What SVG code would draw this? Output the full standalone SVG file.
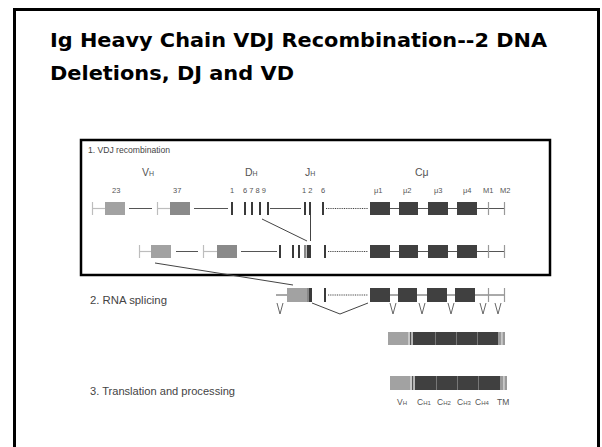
<svg xmlns="http://www.w3.org/2000/svg" width="602" height="447" viewBox="0 0 602 447">
<style>
.title{font-family:"DejaVu Sans","Liberation Sans",sans-serif;font-weight:bold;font-size:19px;fill:#000}
.lab{font-family:"Liberation Sans",Arial,sans-serif;fill:#444}
.step{font-size:10px}
.gene{font-size:10.5px;fill:#555}
.sub{font-size:7px}
.num{font-size:7.5px;fill:#555}
.plab{font-size:8.5px;fill:#555}
.psub{font-size:6px}
.lt{fill:#a2a2a2}
.md{fill:#8a8a8a}
.dk{fill:#404040}
.bar{fill:#3a3a3a}
.tick{stroke:#bdbdbd;stroke-width:1.2;fill:none}
.ln{stroke:#555;stroke-width:1;fill:none}
.dot{stroke:#444;stroke-width:1.2;stroke-dasharray:1 0.8;fill:none}
.con{stroke:#444;stroke-width:1;fill:none}
.v{stroke:#666;stroke-width:1;fill:none}
</style>
<rect width="602" height="447" fill="#fff"/>
<g id="frame"><rect x="14.5" y="9.5" width="584" height="450" fill="none" stroke="#000" stroke-width="3"/></g>
<g id="title">
<text class="title" x="50" y="47" textLength="497" lengthAdjust="spacingAndGlyphs">Ig Heavy Chain VDJ Recombination--2 DNA</text>
<text class="title" x="50" y="80" textLength="244" lengthAdjust="spacingAndGlyphs">Deletions, DJ and VD</text>
</g>
<g id="panel-1">
<rect x="81" y="140" width="469" height="135" fill="none" stroke="#000" stroke-width="2.5"/>
<text class="lab" x="88" y="153" style="font-size:9px" textLength="82" lengthAdjust="spacingAndGlyphs">1. VDJ recombination</text>
</g>
<g id="segment-labels" class="lab">
<text class="gene" x="142" y="176">V<tspan class="sub">H</tspan></text>
<text class="gene" x="245" y="176">D<tspan class="sub">H</tspan></text>
<text class="gene" x="305" y="176">J<tspan class="sub">H</tspan></text>
<text class="gene" x="415" y="176">Cμ</text>
<text class="num" x="112" y="193">23</text>
<text class="num" x="173" y="193">37</text>
<text class="num" x="230" y="193">1</text>
<text class="num" x="243" y="193">6 7 8 9</text>
<text class="num" x="302" y="193">1 2</text>
<text class="num" x="321" y="193">6</text>
<text class="num" x="374" y="193">μ1</text>
<text class="num" x="403" y="193">μ2</text>
<text class="num" x="434" y="193">μ3</text>
<text class="num" x="463" y="193">μ4</text>
<text class="num" x="483" y="193">M1</text>
<text class="num" x="500" y="193">M2</text>
</g>
<g id="row1-germline">
<line class="tick" x1="92.5" y1="202" x2="92.5" y2="215"/><line class="tick" x1="92" y1="208.5" x2="105" y2="208.5"/>
<rect class="lt" x="105" y="202" width="20" height="13"/>
<line class="ln" x1="129" y1="208.5" x2="152" y2="208.5"/>
<line class="tick" x1="157.5" y1="202" x2="157.5" y2="215"/><line class="tick" x1="157" y1="208.5" x2="170" y2="208.5"/>
<rect class="md" x="170" y="202" width="20" height="13"/>
<line class="ln" x1="194" y1="208.5" x2="228" y2="208.5"/>
<rect class="bar" x="231" y="202" width="2" height="13"/>
<rect class="bar" x="244" y="202" width="2" height="13"/>
<rect class="bar" x="251" y="202" width="2" height="13"/>
<rect class="bar" x="259" y="202" width="2" height="13"/>
<rect class="bar" x="267" y="202" width="2" height="13"/>
<line class="ln" x1="270" y1="208.5" x2="301" y2="208.5"/>
<rect class="bar" x="304" y="202" width="2" height="13"/>
<rect class="bar" x="309" y="202" width="2" height="13"/>
<rect class="bar" x="322" y="202" width="2" height="13"/>
<line class="dot" x1="326" y1="208.5" x2="368" y2="208.5"/>
<rect class="dk" x="370" y="202" width="20" height="13"/>
<line class="ln" x1="390" y1="208.5" x2="399" y2="208.5"/>
<rect class="dk" x="399" y="202" width="19" height="13"/>
<line class="ln" x1="418" y1="208.5" x2="428" y2="208.5"/>
<rect class="dk" x="428" y="202" width="20" height="13"/>
<line class="ln" x1="448" y1="208.5" x2="457" y2="208.5"/>
<rect class="dk" x="457" y="202" width="20" height="13"/>
<line class="ln" x1="477" y1="208.5" x2="505" y2="208.5"/>
<line class="tick" x1="488.5" y1="202" x2="488.5" y2="215" style="stroke:#999"/>
<line class="tick" x1="504.5" y1="202" x2="504.5" y2="215" style="stroke:#999"/>
</g>
<g id="row2-dj-joined">
<line class="tick" x1="139.5" y1="245" x2="139.5" y2="258"/><line class="tick" x1="139" y1="251.5" x2="151" y2="251.5"/>
<rect class="lt" x="151" y="245" width="20" height="13"/>
<line class="ln" x1="176" y1="251.5" x2="198" y2="251.5"/>
<line class="tick" x1="203.5" y1="245" x2="203.5" y2="258"/><line class="tick" x1="203" y1="251.5" x2="217" y2="251.5"/>
<rect class="md" x="217" y="245" width="20" height="13"/>
<line class="ln" x1="241" y1="251.5" x2="277" y2="251.5"/>
<rect class="bar" x="279" y="245" width="2" height="13"/>
<rect class="bar" x="292" y="245" width="2" height="13"/>
<rect class="bar" x="298" y="245" width="2" height="13"/>
<rect fill="#888" x="304" y="245" width="2.5" height="13"/>
<rect class="bar" x="307" y="245" width="4" height="13"/>
<rect class="bar" x="324" y="245" width="2" height="13"/>
<line class="dot" x1="328" y1="251.5" x2="368" y2="251.5"/>
<rect class="dk" x="370" y="245" width="20" height="13"/>
<line class="ln" x1="390" y1="251.5" x2="399" y2="251.5"/>
<rect class="dk" x="399" y="245" width="19" height="13"/>
<line class="ln" x1="418" y1="251.5" x2="428" y2="251.5"/>
<rect class="dk" x="428" y="245" width="20" height="13"/>
<line class="ln" x1="448" y1="251.5" x2="457" y2="251.5"/>
<rect class="dk" x="457" y="245" width="20" height="13"/>
<line class="ln" x1="477" y1="251.5" x2="505" y2="251.5"/>
<line class="tick" x1="488.5" y1="245" x2="488.5" y2="258" style="stroke:#999"/>
<line class="tick" x1="504.5" y1="245" x2="504.5" y2="258" style="stroke:#999"/>
</g>
<g id="step-2">
<text class="lab step" x="90" y="304" textLength="77" lengthAdjust="spacingAndGlyphs">2. RNA splicing</text>
</g>
<g id="row3-vdj-joined">
<line class="ln" x1="276" y1="295" x2="287" y2="295"/>
<rect class="lt" x="287" y="288" width="20" height="14"/>
<rect fill="#888" x="307" y="288" width="2" height="14"/>
<rect class="bar" x="309" y="288" width="3" height="14"/>
<rect class="bar" x="324" y="288" width="2" height="14"/>
<line class="dot" x1="328" y1="295" x2="368" y2="295"/>
<rect class="dk" x="370" y="288" width="20" height="14"/>
<line class="ln" x1="390" y1="295" x2="398" y2="295"/>
<rect class="dk" x="398" y="288" width="19" height="14"/>
<line class="ln" x1="417" y1="295" x2="427" y2="295"/>
<rect class="dk" x="427" y="288" width="20" height="14"/>
<line class="ln" x1="447" y1="295" x2="455" y2="295"/>
<rect class="dk" x="455" y="288" width="20" height="14"/>
<line class="ln" x1="475" y1="295" x2="505" y2="295"/>
<line class="tick" x1="488.5" y1="288" x2="488.5" y2="302" style="stroke:#999"/>
<line class="tick" x1="504.5" y1="288" x2="504.5" y2="302" style="stroke:#999"/>
</g>
<g id="mrna">
<rect class="lt" x="388" y="332" width="20" height="13"/>
<rect fill="#c8c8c8" x="408" y="332" width="2" height="13"/>
<rect fill="#555" x="410" y="332" width="1.5" height="13"/>
<rect fill="#bbb" x="411.5" y="332" width="1.5" height="13"/>
<rect class="dk" x="413" y="332" width="85" height="13"/>
<line x1="435.5" y1="332" x2="435.5" y2="345" stroke="#777" stroke-width="1"/>
<line x1="456.5" y1="332" x2="456.5" y2="345" stroke="#777" stroke-width="1"/>
<line x1="477.5" y1="332" x2="477.5" y2="345" stroke="#777" stroke-width="1"/>
<rect fill="#9a9a9a" x="498" y="332" width="3" height="13"/>
<rect fill="#c8c8c8" x="501" y="332" width="1.5" height="13"/>
<rect fill="#999" x="502.5" y="332" width="2.5" height="13"/>
</g>
<g id="step-3">
<text class="lab step" x="90" y="395" textLength="145" lengthAdjust="spacingAndGlyphs">3. Translation and processing</text>
</g>
<g id="protein">
<rect class="lt" x="390" y="376" width="20" height="14"/>
<rect fill="#c8c8c8" x="410" y="376" width="2" height="14"/>
<rect fill="#555" x="412" y="376" width="1.5" height="14"/>
<rect fill="#bbb" x="413.5" y="376" width="1.5" height="14"/>
<rect class="dk" x="415" y="376" width="85" height="14"/>
<line x1="436.5" y1="376" x2="436.5" y2="390" stroke="#777" stroke-width="1"/>
<line x1="457.5" y1="376" x2="457.5" y2="390" stroke="#777" stroke-width="1"/>
<line x1="478.5" y1="376" x2="478.5" y2="390" stroke="#777" stroke-width="1"/>
<rect fill="#9a9a9a" x="500" y="376" width="3" height="14"/>
<rect fill="#c8c8c8" x="503" y="376" width="1.5" height="14"/>
<rect fill="#999" x="504.5" y="376" width="2.5" height="14"/>
<text class="lab plab" x="397" y="405">V<tspan class="psub">H</tspan></text>
<text class="lab plab" x="417" y="405">C<tspan class="psub">H1</tspan></text>
<text class="lab plab" x="437" y="405">C<tspan class="psub">H2</tspan></text>
<text class="lab plab" x="457" y="405">C<tspan class="psub">H3</tspan></text>
<text class="lab plab" x="475" y="405">C<tspan class="psub">H4</tspan></text>
<text class="lab plab" x="497" y="405">TM</text>
</g>
<g id="connectors">
<line class="con" x1="262" y1="219" x2="307" y2="241"/>
<line class="con" x1="310.5" y1="215" x2="310.5" y2="241"/>
<line class="con" x1="155" y1="263" x2="293" y2="285"/>
<polyline class="v" points="277,303 280,314 283,303"/>
<polyline class="con" points="312,303 340,314 368,303"/>
<polyline class="v" points="390,303 393,314 396,303"/>
<polyline class="v" points="419,303 422,314 425,303"/>
<polyline class="v" points="448,303 451,314 454,303"/>
<polyline class="v" points="480,303 483,314 486,303"/>
<polyline class="v" points="495,303 498,314 501,303"/>
</g>
</svg>
